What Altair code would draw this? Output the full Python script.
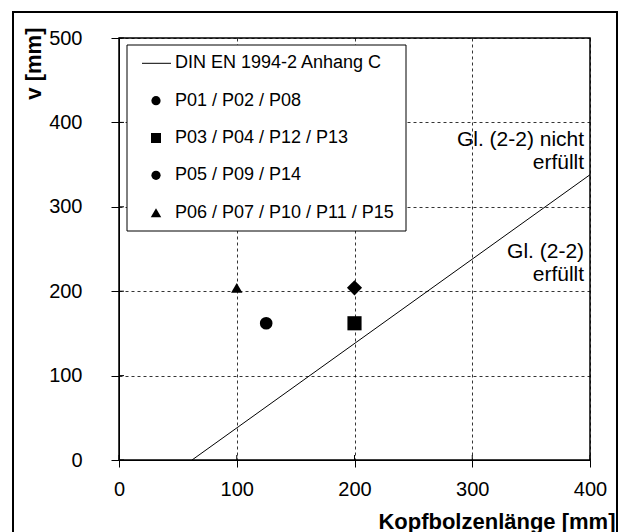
import altair as alt
import pandas as pd

# ---------------- data ----------------
din_h = [62, 400]
din_v = [0, 338]

series = ["P01 / P02 / P08", "P03 / P04 / P12 / P13", "P05 / P09 / P14",
          "P06 / P07 / P10 / P11 / P15"]
pt_h = [125, 200, 200, 100]
pt_v = [162, 162, 204, 204]
pt_shape = ["circle", "square", "diamond", "triangle-up"]

legend_labels = ["DIN EN 1994-2 Anhang C"] + series
legend_shapes = ["stroke", "circle", "square", "circle", "triangle-up"]

x_ticks = [0, 100, 200, 300, 400]
y_ticks = [0, 100, 200, 300, 400, 500]

ann_text = ["Gl. (2-2) nicht", "erfüllt", "Gl. (2-2)", "erfüllt"]
ann_h = [395, 395, 395, 395]
ann_v = [379, 352, 246, 219]

# ---------------- styling ----------------
W, H = 471, 422
FONT = "Liberation Sans"
plot_sizes = {"circle": 160, "square": 200, "diamond": 230, "triangle-up": 130}
legend_sizes = {"circle": 85, "square": 100, "triangle-up": 110}

xs = alt.Scale(domain=[0, 400], nice=False, zero=False)
ys = alt.Scale(domain=[0, 500], nice=False, zero=False)

xaxis = alt.Axis(values=x_ticks, format="d", labelFontSize=20, tickSize=7,
                 labelPadding=12, labelFlush=False, labelOverlap=False, grid=True,
                 title="Kopfbolzenlänge [mm]", titleFontSize=22, titleFontWeight="bold",
                 titleX=496, titleY=68, titleAlign="right", titleBaseline="alphabetic")
yaxis = alt.Axis(values=y_ticks, format="d", labelFontSize=20, tickSize=8,
                 labelPadding=29, labelFlush=False, labelOverlap=False, grid=True,
                 title="v [mm]", titleFontSize=22, titleFontWeight="bold",
                 titleX=-86, titleY=-11, titleAlign="right", titleBaseline="middle",
                 titleAngle=270)


def X(field="h"):
    return alt.X(f"{field}:Q", scale=xs, axis=xaxis)


def Y(field="v"):
    return alt.Y(f"{field}:Q", scale=ys, axis=yaxis)


one = pd.DataFrame({"a": [0]})

frame = alt.Chart(one).mark_rect(filled=False, stroke="black", strokeWidth=2).encode(
    x=alt.value(-106), x2=alt.value(498), y=alt.value(-26), y2=alt.value(530))

line = alt.Chart(pd.DataFrame({"h": din_h, "v": din_v})).mark_line(
    color="black", strokeWidth=1).encode(x=X(), y=Y())

pts_df = pd.DataFrame({"h": pt_h, "v": pt_v, "shape": pt_shape,
                       "size": [plot_sizes[s] for s in pt_shape]})
points = alt.Chart(pts_df).mark_point(filled=True, color="black", opacity=1).encode(
    x=X(), y=Y(),
    shape=alt.Shape("shape:N", scale=None),
    size=alt.Size("size:Q", scale=None))

xin = alt.Chart(pd.DataFrame({"h": x_ticks})).mark_rule(color="black", strokeWidth=1).encode(
    x=X(), y=alt.value(H), y2=alt.value(H - 5))
yin = alt.Chart(pd.DataFrame({"v": y_ticks})).mark_rule(color="black", strokeWidth=1).encode(
    y=Y(), x=alt.value(0), x2=alt.value(5))

ann = alt.Chart(pd.DataFrame({"h": ann_h, "v": ann_v, "t": ann_text})).mark_text(
    align="right", baseline="middle", font=FONT, fontSize=21, color="black").encode(
    x=X(), y=Y(), text="t:N")

# legend
legend_layers = [alt.Chart(one).mark_rect(fill="white", stroke="black", strokeWidth=1).encode(
    x=alt.value(8), x2=alt.value(287), y=alt.value(7), y2=alt.value(193))]
row0, step = 25.3, 37.35
for i, (lab, shp) in enumerate(zip(legend_labels, legend_shapes)):
    yy = row0 + i * step
    if shp == "stroke":
        legend_layers.append(alt.Chart(one).mark_rule(color="black", strokeWidth=1).encode(
            x=alt.value(23), x2=alt.value(52), y=alt.value(yy)))
    else:
        legend_layers.append(alt.Chart(one).mark_point(
            filled=True, color="black", opacity=1, shape=shp, size=legend_sizes[shp]).encode(
            x=alt.value(37), y=alt.value(yy)))
    legend_layers.append(alt.Chart(pd.DataFrame({"t": [lab]})).mark_text(
        align="left", baseline="middle", font=FONT, fontSize=18, color="black").encode(
        x=alt.value(56), y=alt.value(yy), text="t:N"))

chart = alt.layer(frame, line, xin, yin, ann, *legend_layers, points).properties(
    width=W, height=H,
    autosize=alt.AutoSizeParams(type="none"),
    padding={"left": 119, "top": 38, "right": 30, "bottom": 72},
    background="white",
).configure_view(stroke="black", strokeWidth=1.5).configure_axis(
    labelFont=FONT, titleFont=FONT, labelColor="black", titleColor="black",
    domainColor="black", domainWidth=1, tickColor="black", tickWidth=1,
    gridColor="black", gridDash=[3, 3], gridWidth=0.8, gridOpacity=1)

chart.save("out.html", embed_options={"renderer": "svg", "actions": False})
